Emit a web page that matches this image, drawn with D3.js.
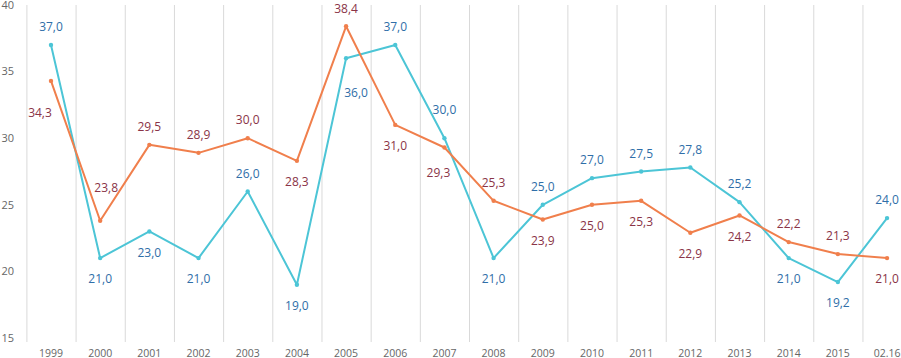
<!DOCTYPE html>
<html>
<head>
<meta charset="utf-8">
<script src="https://cdn.jsdelivr.net/npm/d3@7"></script>
<style>
  body { margin: 0; background: #fff; overflow: hidden; }
  svg { display: block; font-family: "Open Sans", sans-serif; }
</style>
</head>
<body>
<svg id="chart"></svg>
<script>
// Data
const categories = ["1999", "2000", "2001", "2002", "2003", "2004", "2005", "2006", "2007",
  "2008", "2009", "2010", "2011", "2012", "2013", "2014", "2015", "02.16"];
const cyanValues = [37.0, 21.0, 23.0, 21.0, 26.0, 19.0, 36.0, 37.0, 30.0,
  21.0, 25.0, 27.0, 27.5, 27.8, 25.2, 21.0, 19.2, 24.0];
const orangeValues = [34.3, 23.8, 29.5, 28.9, 30.0, 28.3, 38.4, 31.0, 29.3,
  25.3, 23.9, 25.0, 25.3, 22.9, 24.2, 22.2, 21.3, 21.0];
const yTicks = [15, 20, 25, 30, 35, 40];

// Configurations
const width = 901;
const height = 358;
const bandLeft = 26.4; // left edge of first category band
const bandStep = 49.18; // width of one category, last band runs past the right edge
const yTop = 5, yBottom = 338;
const fmt = v => v.toFixed(1).replace(".", ",");

// label placement: 1 = above the point, -1 = below
const cyanSide = [1, -1, -1, -1, 1, -1, -1, 1, 1, -1, 1, 1, 1, 1, 1, -1, -1, 1];
const orangeSide = [-1, 1, 1, 1, 1, -1, 1, -1, -1, 1, -1, -1, -1, -1, -1, 1, 1, -1];
// a few labels were nudged by hand in the original
const cyanNudge = {6: [10, 14], 8: [0, -10]};
const orangeNudge = {0: [-11, 11], 1: [6, -15], 8: [-6, 4]};

const series = [
  {values: cyanValues, line: "#4cc5d6", label: "#2f6ea8", side: cyanSide, nudge: cyanNudge},
  {values: orangeValues, line: "#f07f4c", label: "#8a3447", side: orangeSide, nudge: orangeNudge}
];

const svg = d3.select("#chart")
  .attr("width", width)
  .attr("height", height)
  .attr("viewBox", [0, 0, width, height]);

const x = d3.scaleBand(categories, [bandLeft, bandLeft + bandStep * categories.length]);
const y = d3.scaleLinear([15, 40], [yBottom, yTop]);

// vertical gridlines between categories
svg.append("g")
  .selectAll("line")
  .data(categories)
  .join("line")
  .attr("x1", d => x(d) + 0.5)
  .attr("x2", d => x(d) + 0.5)
  .attr("y1", y(40))
  .attr("y2", y(15) + 4)
  .attr("stroke", "#d9d9d9")
  .attr("stroke-width", 1);

// y axis labels
svg.append("g")
  .selectAll("text")
  .data(yTicks)
  .join("text")
  .attr("x", 14)
  .attr("y", d => y(d))
  .attr("dy", "0.35em")
  .attr("text-anchor", "end")
  .attr("fill", "#666")
  .attr("font-size", 11)
  .text(d => d);

// x axis labels
svg.append("g")
  .selectAll("text")
  .data(categories)
  .join("text")
  .attr("x", d => x(d) + x.bandwidth() / 2)
  .attr("y", 357)
  .attr("text-anchor", "middle")
  .attr("fill", "#666")
  .attr("font-size", 10.5)
  .text(d => d);

const cx = i => x(categories[i]) + x.bandwidth() / 2;
const line = d3.line()
  .x((d, i) => cx(i))
  .y(d => y(d));

for (const s of series) {
  const g = svg.append("g");
  g.append("path")
    .datum(s.values)
    .attr("fill", "none")
    .attr("stroke", s.line)
    .attr("stroke-width", 2)
    .attr("stroke-linejoin", "round")
    .attr("d", line);

  g.selectAll("circle")
    .data(s.values)
    .join("circle")
    .attr("cx", (d, i) => cx(i))
    .attr("cy", d => y(d))
    .attr("r", 2.2)
    .attr("fill", s.line);

  g.selectAll("text")
    .data(s.values)
    .join("text")
    .attr("x", (d, i) => cx(i) + (s.nudge[i] ? s.nudge[i][0] : 0))
    .attr("y", (d, i) => y(d) + (s.side[i] > 0 ? -18 : 21) + (s.nudge[i] ? s.nudge[i][1] : 0))
    .attr("dy", "0.35em")
    .attr("text-anchor", "middle")
    .attr("fill", s.label)
    .attr("font-size", 12)
    .text(d => fmt(d));
}
</script>
</body>
</html>
